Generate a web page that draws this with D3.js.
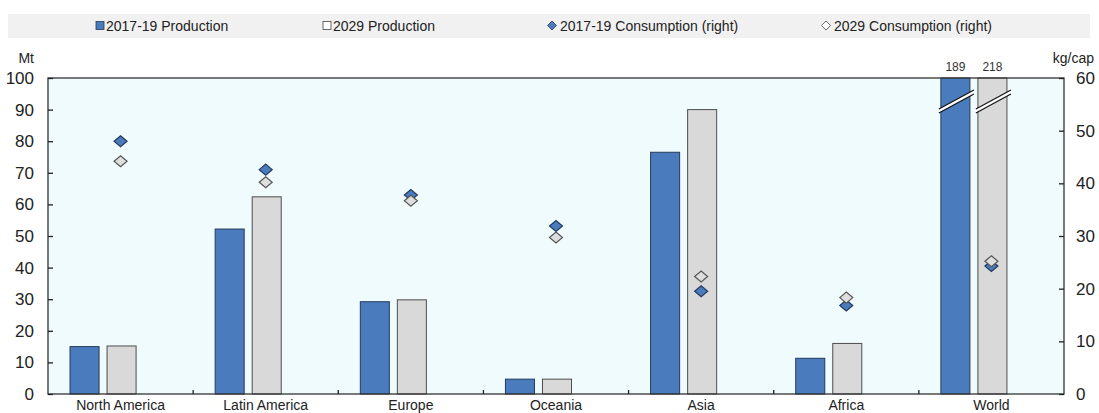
<!DOCTYPE html>
<html>
<head>
<meta charset="utf-8">
<script src="https://cdn.jsdelivr.net/npm/d3@7"></script>
<style>
  html, body { margin: 0; padding: 0; background: #ffffff; }
  svg { display: block; font-family: "Liberation Sans", Arial, sans-serif; }
</style>
</head>
<body>
<svg id="chart" width="1099" height="413"></svg>
<script>
// ---- data ----
const categories = ["North America", "Latin America", "Europe", "Oceania", "Asia", "Africa", "World"];
const production2017 = [15.0, 52.2, 29.2, 4.7, 76.5, 11.3, 189];
const production2029 = [15.2, 62.4, 29.8, 4.7, 90.0, 16.0, 218];
const consumption2017 = [48.0, 42.6, 37.8, 31.9, 19.5, 16.8, 24.3];
const consumption2029 = [44.2, 40.2, 36.7, 29.7, 22.3, 18.3, 25.2];
const leftTicks = [0, 10, 20, 30, 40, 50, 60, 70, 80, 90, 100];
const rightTicks = [0, 10, 20, 30, 40, 50, 60];
const legendLabels = ["2017-19 Production", "2029 Production", "2017-19 Consumption (right)", "2029 Consumption (right)"];

// ---- layout ----
const svg = d3.select("#chart");
const L = 48, R = 1064, T = 78, B = 394;
const blue = "#4a7cbd", blueStroke = "#25395c";
const grey = "#d9d9d9", greyStroke = "#4d4d4d";

const x = d3.scaleBand().domain(categories).range([L, R]).padding(0);
const bw = x.bandwidth();
const xs = d3.scaleBand().domain(["p17", "p29"])
  .range([bw * 22 / 145, bw * 88 / 145]).paddingInner(0.216).paddingOuter(0);
const yL = d3.scaleLinear().domain([0, 100]).range([B, T]);
const yR = d3.scaleLinear().domain([0, 60]).range([B, T]);

// legend band
svg.append("rect").attr("x", 8).attr("y", 14).attr("width", 1082).attr("height", 24).attr("fill", "#f1f1f1");
const lg = svg.append("g").attr("font-size", 14).attr("fill", "#222");
lg.append("rect").attr("x", 96).attr("y", 21.5).attr("width", 8).attr("height", 8)
  .attr("fill", blue).attr("stroke", blueStroke).attr("stroke-width", 0.8);
lg.append("text").attr("x", 106).attr("y", 31).text(legendLabels[0]);
lg.append("rect").attr("x", 323).attr("y", 21.5).attr("width", 8).attr("height", 8)
  .attr("fill", "#fff").attr("stroke", "#444").attr("stroke-width", 0.8);
lg.append("text").attr("x", 333).attr("y", 31).text(legendLabels[1]);
const dia = (cx, cy, w, h) => `M${cx - w},${cy} L${cx},${cy - h} L${cx + w},${cy} L${cx},${cy + h} Z`;
lg.append("path").attr("d", dia(552, 25.5, 4.5, 4.5)).attr("fill", blue).attr("stroke", blueStroke).attr("stroke-width", 0.8);
lg.append("text").attr("x", 560).attr("y", 31).text(legendLabels[2]);
lg.append("path").attr("d", dia(826, 25.5, 4.5, 4.5)).attr("fill", "#fff").attr("stroke", "#444").attr("stroke-width", 0.8);
lg.append("text").attr("x", 834).attr("y", 31).text(legendLabels[3]);

// plot background
svg.append("rect").attr("x", L).attr("y", T).attr("width", R - L).attr("height", B - T).attr("fill", "#f0fbfe");

// bars
const g = svg.append("g");
const seriesProd = [{ key: "p17", vals: production2017, fill: blue, stroke: blueStroke },
                    { key: "p29", vals: production2029, fill: grey, stroke: greyStroke }];
seriesProd.forEach(s => {
  g.selectAll(null).data(categories).enter().append("rect")
    .attr("x", c => x(c) + xs(s.key))
    .attr("width", xs.bandwidth())
    .attr("y", (c, i) => yL(Math.min(s.vals[i], 100)))
    .attr("height", (c, i) => yL(0) - yL(Math.min(s.vals[i], 100)))
    .attr("fill", s.fill).attr("stroke", s.stroke).attr("stroke-width", 1);
});

// break marks for bars exceeding the axis + value labels
seriesProd.forEach(s => {
  categories.forEach((c, i) => {
    if (s.vals[i] > 100) {
      const x0 = x(c) + xs(s.key) - 2, x1 = x(c) + xs(s.key) + xs.bandwidth() + 4;
      const yA = yL(90.2), yB = yL(96.2);
      g.append("path").attr("d", `M${x0},${yA} L${x1},${yB} L${x1},${yB + 4} L${x0},${yA + 4} Z`).attr("fill", "#fff");
      g.append("line").attr("x1", x0).attr("y1", yA).attr("x2", x1).attr("y2", yB).attr("stroke", "#111").attr("stroke-width", 1.2);
      g.append("line").attr("x1", x0).attr("y1", yA + 4).attr("x2", x1).attr("y2", yB + 4).attr("stroke", "#111").attr("stroke-width", 1.2);
      svg.append("text").attr("x", x(c) + xs(s.key) + xs.bandwidth() / 2).attr("y", 71)
        .attr("text-anchor", "middle").attr("font-size", 12).attr("fill", "#333").text(s.vals[i]);
    }
  });
});

// frame
svg.append("rect").attr("x", L).attr("y", T).attr("width", R - L).attr("height", B - T)
  .attr("fill", "none").attr("stroke", "#333").attr("stroke-width", 1.3);

// axes
const axL = d3.axisLeft(yL).tickValues(leftTicks).tickSize(-5).tickPadding(14);
const gL = svg.append("g").attr("transform", `translate(${L},0)`).call(axL);
const axR = d3.axisRight(yR).tickValues(rightTicks).tickSize(-5).tickPadding(12);
const gR = svg.append("g").attr("transform", `translate(${R},0)`).call(axR);
const boundaries = categories.slice(1);
const axB = d3.axisBottom(x).tickSize(0).tickPadding(12);
const gB = svg.append("g").attr("transform", `translate(0,${B})`).call(axB);
[gL, gR, gB].forEach(a => {
  a.select(".domain").remove();
  a.selectAll("line").attr("stroke", "#222").attr("stroke-width", 1.3);
  a.selectAll("text").attr("fill", "#222").attr("font-family", "Liberation Sans, Arial, sans-serif");
});
gL.selectAll("text").attr("font-size", 17);
gR.selectAll("text").attr("font-size", 17);
gB.selectAll("text").attr("font-size", 14).attr("dy", 0).attr("y", 16);
// category boundary ticks
svg.append("g").selectAll("line").data(boundaries).enter().append("line")
  .attr("x1", c => x(c)).attr("x2", c => x(c)).attr("y1", B).attr("y2", B - 4)
  .attr("stroke", "#222").attr("stroke-width", 1.3);

// axis titles
svg.append("text").attr("x", 34).attr("y", 63).attr("text-anchor", "end").attr("font-size", 14).attr("fill", "#222").text("Mt");
svg.append("text").attr("x", 1094).attr("y", 63).attr("text-anchor", "end").attr("font-size", 14).attr("fill", "#222").text("kg/cap");

// consumption diamonds
const seriesCons = [{ vals: consumption2017, fill: blue, stroke: blueStroke },
                    { vals: consumption2029, fill: "#dedede", stroke: "#555" }];
seriesCons.forEach(s => {
  svg.append("g").selectAll("path").data(categories).enter().append("path")
    .attr("d", (c, i) => dia(x(c) + bw / 2, yR(s.vals[i]), 6.5, 5.5))
    .attr("fill", s.fill).attr("stroke", s.stroke).attr("stroke-width", 1.2);
});
</script>
</body>
</html>
